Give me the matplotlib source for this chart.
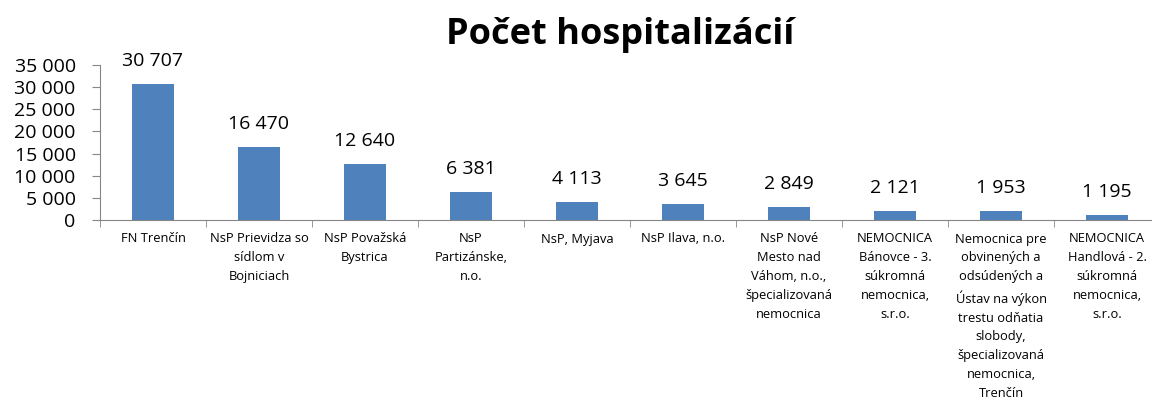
import matplotlib
matplotlib.use("Agg")
import matplotlib.pyplot as plt
from matplotlib.ticker import FixedLocator, FuncFormatter
import numpy as np

plt.rcParams['font.family'] = ['Open Sans', 'DejaVu Sans']

categories = [
    "FN Trenčín",
    "NsP Prievidza so\nsídlom v\nBojniciach",
    "NsP Považská\nBystrica",
    "NsP\nPartizánske,\nn.o.",
    "NsP, Myjava",
    "NsP Ilava, n.o.",
    "NsP Nové\nMesto nad\nVáhom, n.o.,\nšpecializovaná\nnemocnica",
    "NEMOCNICA\nBánovce - 3.\nsúkromná\nnemocnica,\ns.r.o.",
    "Nemocnica pre\nobvinených a\nodsúdených a\nÚstav na výkon\ntrestu odňatia\nslobody,\nšpecializovaná\nnemocnica,\nTrenčín",
    "NEMOCNICA\nHandlová - 2.\nsúkromná\nnemocnica,\ns.r.o.",
]
values = [30707, 16470, 12640, 6381, 4113, 3645, 2849, 2121, 1953, 1195]
title = "Počet hospitalizácií"

def fmt(v):
    return f"{int(v):,}".replace(",", " ")

fig = plt.figure(figsize=(11.52, 4.03), dpi=100)
ax = fig.add_axes([100/1152, (403-220)/403, (1160-100)/1152, (220-65)/403])

x = np.arange(len(values))
ax.bar(x, values, width=0.39, color="#4F81BD")

ax.set_xlim(-0.5, len(values) - 0.5)
ax.set_ylim(0, 35000)
ax.yaxis.set_major_locator(FixedLocator(np.arange(0, 35001, 5000)))
ax.yaxis.set_major_formatter(FuncFormatter(lambda v, p: fmt(v)))
ax.tick_params(axis='y', labelsize=14, length=5.5, color="#868686", pad=12)

ax.set_xticks(x)
ax.set_xticklabels(categories, fontsize=9.3, linespacing=1.58, va='top')
ax.tick_params(axis='x', length=0, pad=9)
ax.set_xticks(np.arange(-0.5, len(values), 1.0), minor=True)
ax.tick_params(axis='x', which='minor', length=5, color="#868686")

for s in ['top', 'right']:
    ax.spines[s].set_visible(False)
for s in ['left', 'bottom']:
    ax.spines[s].set_color("#868686")

for xi, v in zip(x, values):
    ax.annotate(fmt(v), (xi, v), xytext=(0, 10), textcoords='offset points',
                ha='center', va='bottom', fontsize=14)

fig.text(620/1152, 1 - 35/403, title, ha='center', va='center',
         fontsize=26, fontweight='bold')

fig.savefig("out.png", dpi=100)
